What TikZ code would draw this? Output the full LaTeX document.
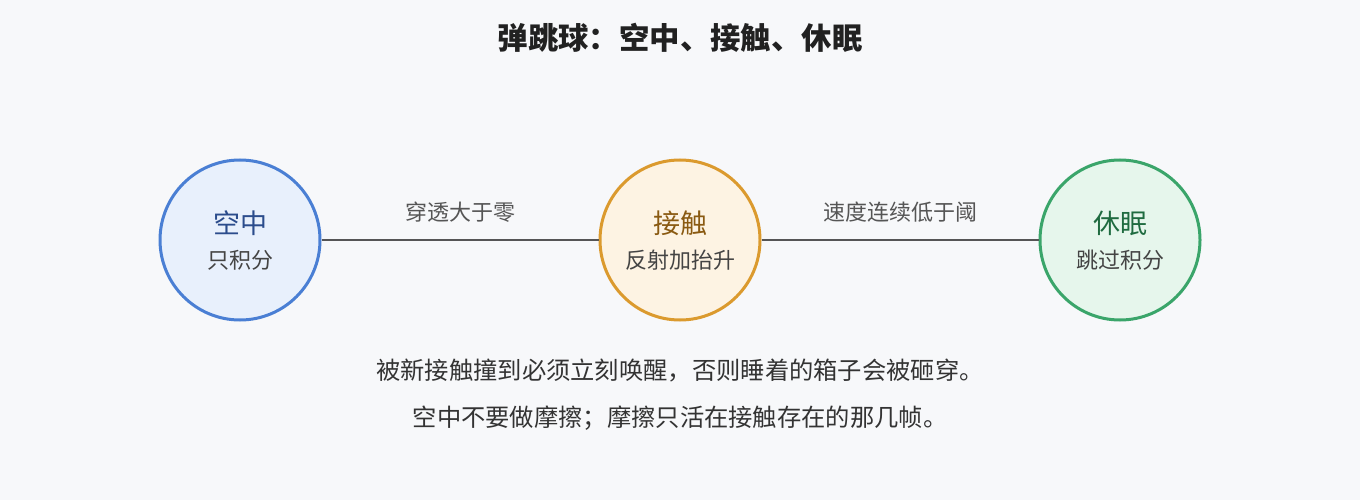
\documentclass[tikz,border=0pt]{standalone}
\usepackage{fontspec}
\setmainfont{Noto Sans CJK SC}
\definecolor{bg}{HTML}{F7F8FA}
\definecolor{bstroke}{HTML}{4A7FD4}
\definecolor{bfill}{HTML}{E8F0FC}
\definecolor{btext}{HTML}{2B4C8C}
\definecolor{ostroke}{HTML}{DB9A2E}
\definecolor{ofill}{HTML}{FDF3E3}
\definecolor{otext}{HTML}{8A5A12}
\definecolor{gstroke}{HTML}{3AA56A}
\definecolor{gfill}{HTML}{E6F6EC}
\definecolor{gtext}{HTML}{1F6B40}
\definecolor{sub}{HTML}{444444}
\definecolor{edge}{HTML}{555555}
\definecolor{body}{HTML}{333333}
\tikzset{
  state/.style={circle, minimum size=160pt, inner sep=0pt, line width=3pt},
  stitle/.style={font=\fontsize{27}{31}\selectfont},
  ssub/.style={font=\fontsize{22}{26}\selectfont, text=sub},
  conn/.style={draw=edge, line width=1.5pt},
  elabel/.style={font=\fontsize{22}{26}\selectfont, text=edge},
  note/.style={font=\fontsize{24.3}{28}\selectfont, text=body},
}
\begin{document}
\begin{tikzpicture}[x=1pt,y=-1pt]
\fill[bg] (0,0) rectangle (1360,500);
\useasboundingbox (0,0) rectangle (1360,500);
\node[font=\fontsize{30.4}{34}\selectfont\bfseries, text=black!87] (title) at (680,38) {弹跳球：空中、接触、休眠};
\node[state, draw=bstroke, fill=bfill] (air) at (240,240) {};
\node[state, draw=ostroke, fill=ofill] (contact) at (680,240) {};
\node[state, draw=gstroke, fill=gfill] (sleep) at (1120,240) {};
\draw[conn] (air) -- (contact);
\draw[conn] (contact) -- (sleep);
\node[stitle, text=btext] (airt) at (240,223) {空中};
\node[ssub] (airs) at (240,260) {只积分};
\node[stitle, text=otext] (cont) at (680,223) {接触};
\node[ssub] (cons) at (680,260) {反射加抬升};
\node[stitle, text=gtext] (sleept) at (1120,223) {休眠};
\node[ssub] (sleeps) at (1120,260) {跳过积分};
\node[elabel] (e1) at (460,212) {穿透大于零};
\node[elabel] (e2) at (900,212) {速度连续低于阈};
\node[note] (n1) at (680,371) {被新接触撞到必须立刻唤醒，否则睡着的箱子会被砸穿。};
\node[note] (n2) at (680,418) {空中不要做摩擦；摩擦只活在接触存在的那几帧。};
\end{tikzpicture}
\end{document}
